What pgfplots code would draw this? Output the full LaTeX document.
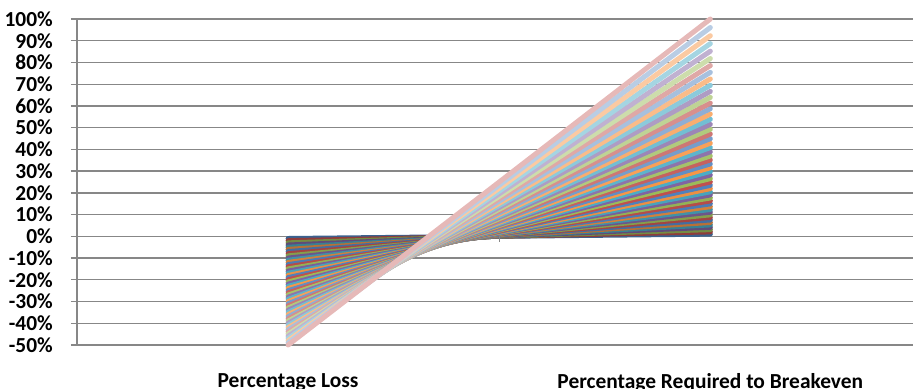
\documentclass[border=0pt]{standalone}
\usepackage{pgfplots}
\pgfplotsset{compat=1.18}
\usepackage{fontspec}
\setmainfont{Carlito}
\definecolor{xb}{HTML}{4F81BD}
\definecolor{xr}{HTML}{C0504D}
\definecolor{xg}{HTML}{9BBB59}
\definecolor{xp}{HTML}{8064A2}
\definecolor{xa}{HTML}{4BACC6}
\definecolor{xo}{HTML}{F79646}
\definecolor{gridc}{HTML}{878787}
\begin{document}
\begin{tikzpicture}
\begin{axis}[
  scale only axis,
  width=836bp, height=326bp,
  xmin=-0.5, xmax=1.48,
  ymin=-50, ymax=100,
  clip=false,
  axis y line*=left, axis x line*=bottom,
  axis line style={-, gridc, line width=1.3bp},
  xtick={0,1},
  xticklabels={Percentage Loss, Percentage Required to Breakeven},
  x tick style={draw=none},
  xticklabel style={font=\fontsize{21.5}{25}\selectfont\bfseries, anchor=north, yshift=-19bp},
  ytick={-50,-40,...,100},
  yticklabels={-50\%,-40\%,-30\%,-20\%,-10\%,0\%,10\%,20\%,30\%,40\%,50\%,60\%,70\%,80\%,90\%,100\%},
  yticklabel style={font=\fontsize{21.5}{25}\selectfont\bfseries, anchor=east, inner sep=0pt, xshift=-18bp},
  y tick style={gridc, line width=1.3bp},
  tick align=outside,
  major tick length=6bp,
  ymajorgrids,
  major grid style={gridc, line width=1.3bp},
  every axis plot/.append style={line width=5bp, line cap=round, mark=none},
  cycle list={
    {xb!75!black},{xr!75!black},{xg!75!black},{xp!75!black},{xa!75!black},{xo!75!black},
    {xb!85!black},{xr!85!black},{xg!85!black},{xp!85!black},{xa!85!black},{xo!85!black},
    {xb!95!black},{xr!95!black},{xg!95!black},{xp!95!black},{xa!95!black},{xo!95!black},
    {xb},{xr},{xg},{xp},{xa},{xo},
    {xb!90!white},{xr!90!white},{xg!90!white},{xp!90!white},{xa!90!white},{xo!90!white},
    {xb!78!white},{xr!78!white},{xg!78!white},{xp!78!white},{xa!78!white},{xo!78!white},
    {xb!64!white},{xr!64!white},{xg!64!white},{xp!64!white},{xa!64!white},{xo!64!white},
    {xb!50!white},{xr!50!white},{xg!50!white},{xp!50!white},{xa!50!white},{xo!50!white},
    {xb!40!white},{xr!40!white},{xg!40!white},{xp!40!white},{xa!40!white},{xo!40!white}
  },
]
\addplot coordinates {(0,-1) (1,1.01)};
\addplot coordinates {(0,-2) (1,2.04)};
\addplot coordinates {(0,-3) (1,3.09)};
\addplot coordinates {(0,-4) (1,4.17)};
\addplot coordinates {(0,-5) (1,5.26)};
\addplot coordinates {(0,-6) (1,6.38)};
\addplot coordinates {(0,-7) (1,7.53)};
\addplot coordinates {(0,-8) (1,8.70)};
\addplot coordinates {(0,-9) (1,9.89)};
\addplot coordinates {(0,-10) (1,11.11)};
\addplot coordinates {(0,-11) (1,12.36)};
\addplot coordinates {(0,-12) (1,13.64)};
\addplot coordinates {(0,-13) (1,14.94)};
\addplot coordinates {(0,-14) (1,16.28)};
\addplot coordinates {(0,-15) (1,17.65)};
\addplot coordinates {(0,-16) (1,19.05)};
\addplot coordinates {(0,-17) (1,20.48)};
\addplot coordinates {(0,-18) (1,21.95)};
\addplot coordinates {(0,-19) (1,23.46)};
\addplot coordinates {(0,-20) (1,25.00)};
\addplot coordinates {(0,-21) (1,26.58)};
\addplot coordinates {(0,-22) (1,28.21)};
\addplot coordinates {(0,-23) (1,29.87)};
\addplot coordinates {(0,-24) (1,31.58)};
\addplot coordinates {(0,-25) (1,33.33)};
\addplot coordinates {(0,-26) (1,35.14)};
\addplot coordinates {(0,-27) (1,36.99)};
\addplot coordinates {(0,-28) (1,38.89)};
\addplot coordinates {(0,-29) (1,40.85)};
\addplot coordinates {(0,-30) (1,42.86)};
\addplot coordinates {(0,-31) (1,44.93)};
\addplot coordinates {(0,-32) (1,47.06)};
\addplot coordinates {(0,-33) (1,49.25)};
\addplot coordinates {(0,-34) (1,51.52)};
\addplot coordinates {(0,-35) (1,53.85)};
\addplot coordinates {(0,-36) (1,56.25)};
\addplot coordinates {(0,-37) (1,58.73)};
\addplot coordinates {(0,-38) (1,61.29)};
\addplot coordinates {(0,-39) (1,63.93)};
\addplot coordinates {(0,-40) (1,66.67)};
\addplot coordinates {(0,-41) (1,69.49)};
\addplot coordinates {(0,-42) (1,72.41)};
\addplot coordinates {(0,-43) (1,75.44)};
\addplot coordinates {(0,-44) (1,78.57)};
\addplot coordinates {(0,-45) (1,81.82)};
\addplot coordinates {(0,-46) (1,85.19)};
\addplot coordinates {(0,-47) (1,88.68)};
\addplot coordinates {(0,-48) (1,92.31)};
\addplot coordinates {(0,-49) (1,96.08)};
\addplot coordinates {(0,-50) (1,100)};
\draw[gridc, line width=1.3bp] (axis cs:0.5,0) -- ++(0pt,-6bp);
\coordinate (bl) at (rel axis cs:0,0);
\coordinate (tr) at (rel axis cs:1,1);
\end{axis}
\pgfresetboundingbox
\path (bl) ++(-77bp,-44bp) coordinate (ba);
\path (tr) ++(0pt,19bp) coordinate (bb);
\pgfresetboundingbox
\useasboundingbox (ba) rectangle (bb);
\end{tikzpicture}
\end{document}
